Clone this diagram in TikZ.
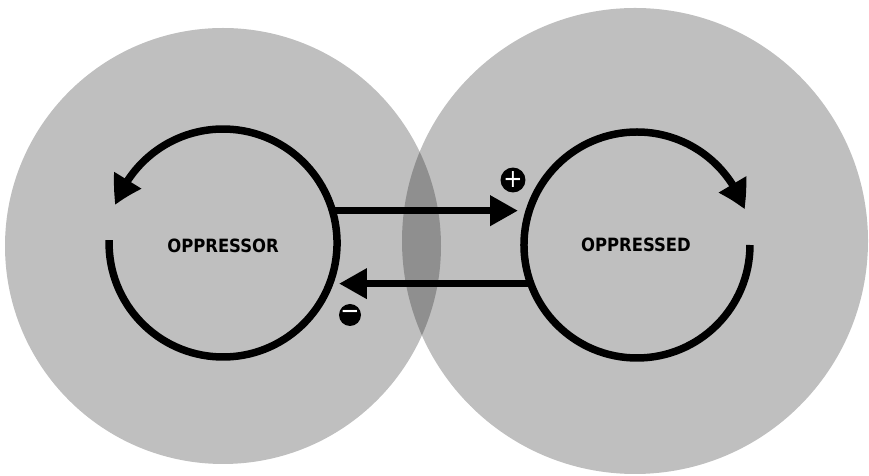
\documentclass[tikz,border=0pt]{standalone}
\usepackage{fontspec}
\setmainfont{DejaVu Sans Condensed}
\usetikzlibrary{arrows.meta,bending}

\begin{document}
\begin{tikzpicture}[x=0.02cm,y=0.02cm]
 \tikzset{zone/.style={fill=black,fill opacity=0.25},
   ring/.style={circle,inner sep=0pt,outer sep=0pt,minimum size=#1},
   label/.style={font=\bfseries\fontsize{10.4}{11}\selectfont},
   sign/.style={circle,fill=black,text=white,inner sep=0pt,minimum size=0.44cm,font=\fontsize{14.5}{14.5}\selectfont},
   flow/.style={line width=0.15cm,-{Triangle[length=0.56cm,width=0.58cm]}},
   cycle/.style={line width=0.15cm,-{Triangle[length=0.56cm,width=0.6cm,bend]}}}
  \useasboundingbox (0,0) rectangle (869,476);
  \fill[zone] (223,230) circle[radius=218];
  \fill[zone] (635,235) circle[radius=233];
  \node[ring=4.56cm] (OppressorLoop) at (223,232) {};
  \node[ring=4.52cm] (OppressedLoop) at (637,231) {};
  \node[label] (Oppressor) at (223,230) {OPPRESSOR};
  \node[label] (Oppressed) at (636,231) {OPPRESSED};
  \draw[cycle] (OppressorLoop.178.5) arc[start angle=178.5, end angle=520.6, radius=114];
  \draw[cycle] (OppressedLoop.0) arc[start angle=0, end angle=-341.7, radius=113];
  \draw[flow,shorten >=0.12cm] (OppressorLoop.17) -- (OppressorLoop.17 -| OppressedLoop.west);
  \draw[flow,shorten >=0.04cm] (OppressedLoop.200) -- (OppressedLoop.200 -| OppressorLoop.east);
  \node[sign] (Plus) at (513,296) {+};
  \node[sign] (Minus) at (350,161) {−};
\end{tikzpicture}
\end{document}
